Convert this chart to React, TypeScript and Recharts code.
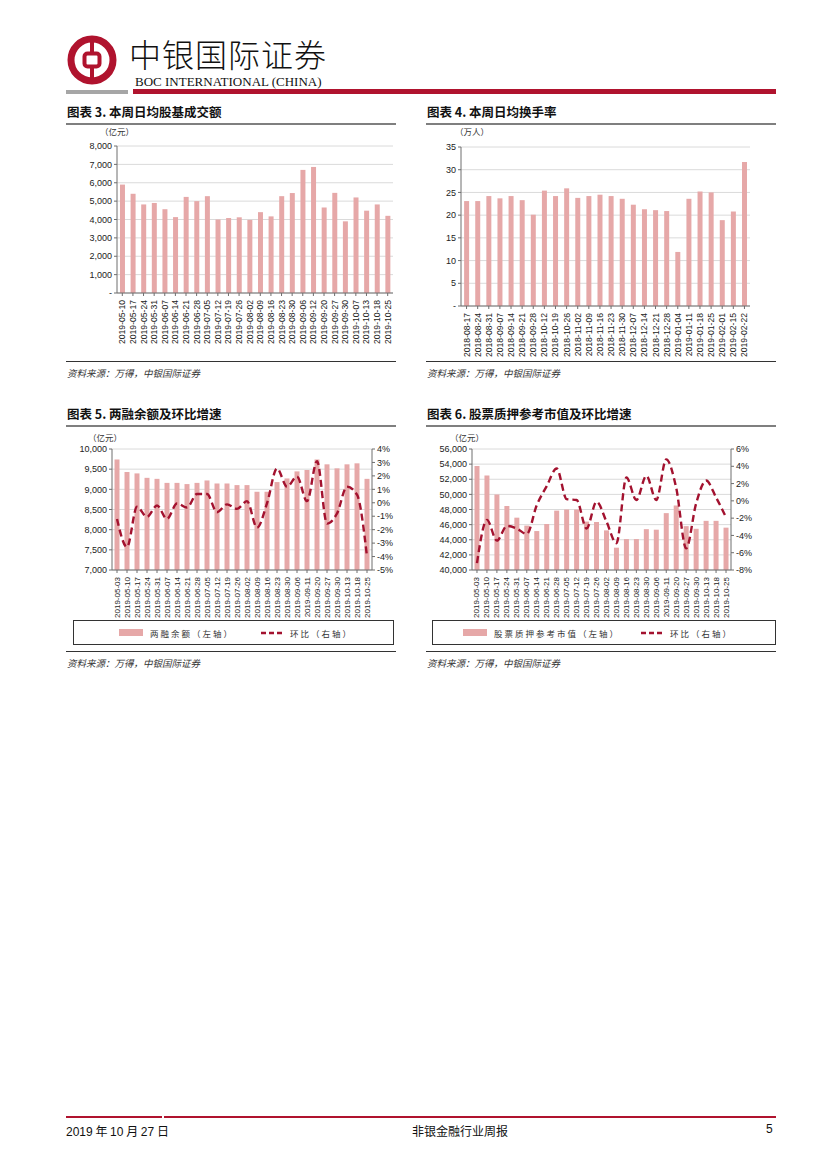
import { BarChart, Bar, ComposedChart, Line, XAxis, YAxis, CartesianGrid } from 'recharts';

// 图表3 本周日均股基成交额（亿元）
const turnoverDates = [
    '2019-05-10', '2019-05-17', '2019-05-24', '2019-05-31', '2019-06-07', '2019-06-14', '2019-06-21',
    '2019-06-28', '2019-07-05', '2019-07-12', '2019-07-19', '2019-07-26', '2019-08-02', '2019-08-09',
    '2019-08-16', '2019-08-23', '2019-08-30', '2019-09-06', '2019-09-12', '2019-09-20', '2019-09-27',
    '2019-09-30', '2019-10-07', '2019-10-13', '2019-10-18', '2019-10-25',
];
const turnoverValues = [
    5900, 5400, 4820, 4900, 4560, 4130, 5230, 5000, 5270, 4000, 4080, 4120, 3980, 4400,
    4170, 5270, 5440, 6700, 6860, 4650, 5450, 3900, 5200, 4480, 4820, 4200,
];
const turnoverTicks = [0, 1000, 2000, 3000, 4000, 5000, 6000, 7000, 8000];

// 图表4 本周日均换手率（万人）
const userDates = [
    '2018-08-17', '2018-08-24', '2018-08-31', '2018-09-07', '2018-09-14', '2018-09-21', '2018-09-28',
    '2018-10-12', '2018-10-19', '2018-10-26', '2018-11-02', '2018-11-09', '2018-11-16', '2018-11-23',
    '2018-11-30', '2018-12-07', '2018-12-14', '2018-12-21', '2018-12-28', '2019-01-04', '2019-01-11',
    '2019-01-18', '2019-01-25', '2019-02-01', '2019-02-15', '2019-02-22',
];
const userValues = [
    23.1, 23.1, 24.2, 23.7, 24.2, 23.3, 20.1, 25.4, 24.2, 25.9, 23.8, 24.2, 24.5, 24.2,
    23.6, 22.3, 21.3, 21.1, 20.9, 11.9, 23.6, 25.2, 25.0, 18.9, 20.8, 31.7,
];
const userTicks = [0, 5, 10, 15, 20, 25, 30, 35];

// 图表5 两融余额及环比增速
const marginDates = [
    '2019-05-03', '2019-05-10', '2019-05-17', '2019-05-24', '2019-05-31', '2019-06-07', '2019-06-14',
    '2019-06-21', '2019-06-28', '2019-07-05', '2019-07-12', '2019-07-19', '2019-07-26', '2019-08-02',
    '2019-08-09', '2019-08-16', '2019-08-23', '2019-08-30', '2019-09-06', '2019-09-11', '2019-09-20',
    '2019-09-27', '2019-09-30', '2019-10-13', '2019-10-18', '2019-10-25',
];
const marginBalance = [
    9740, 9430, 9395, 9285, 9260, 9160, 9160, 9130, 9160, 9220, 9145, 9145, 9105, 9105,
    8940, 8940, 9180, 9270, 9445, 9480, 9740, 9620, 9520, 9620, 9645, 9260,
];
const marginChange = [
    -1.2, -3.3, -0.3, -1.05, -0.2, -1.2, -0.05, -0.35, 0.65, 0.65, -0.7, -0.12, -0.45, 0.12,
    -1.85, -0.05, 2.55, 1.2, 1.95, 0.12, 3.1, -1.55, -0.8, 1.2, 0.6, -4.0,
];
const marginLeftTicks = [7000, 7500, 8000, 8500, 9000, 9500, 10000];
const marginRightTicks = [-5, -4, -3, -2, -1, 0, 1, 2, 3, 4];

// 图表6 股票质押参考市值及环比增速
const pledgeDates = [
    '2019-05-03', '2019-05-10', '2019-05-17', '2019-05-24', '2019-05-31', '2019-06-07', '2019-06-14',
    '2019-06-21', '2019-06-28', '2019-07-05', '2019-07-12', '2019-07-19', '2019-07-26', '2019-08-02',
    '2019-08-09', '2019-08-16', '2019-08-23', '2019-08-30', '2019-09-06', '2019-09-11', '2019-09-20',
    '2019-09-27', '2019-09-30', '2019-10-13', '2019-10-18', '2019-10-25',
];
const pledgeValue = [
    53750, 52480, 50000, 48460, 46920, 45870, 45150, 46080, 47850, 48000, 48000, 46400, 46350, 45240,
    42950, 44090, 44090, 45400, 45330, 47520, 48530, 45800, 45450, 46500, 46500, 45600,
];
const pledgeChange = [
    -7.2, -2.2, -4.6, -2.9, -3.2, -3.85, -0.5, 1.7, 3.75, 0.2, 0.1, -3.2, -0.1, -2.4,
    -4.9, 2.7, 0.1, 2.9, 0.1, 4.8, 1.5, -5.5, -0.3, 2.35, 0.4, -1.9,
];
const pledgeLeftTicks = [40000, 42000, 44000, 46000, 48000, 50000, 52000, 54000, 56000];
const pledgeRightTicks = [-8, -6, -4, -2, 0, 2, 4, 6];

const BAR = '#E6A8A8';
const LINE = '#A3122F';
const RED = '#B0132E';
const AXIS = '#6E6E6E';
const GRID = '#DADADA';
const FONT = '"Liberation Sans", Arial, "Noto Sans CJK SC", sans-serif';
const CJK = '"Noto Sans CJK SC", sans-serif';

const fmtNum = (v: number) => (v === 0 ? '-' : v.toLocaleString('en-US'));
const fmtPct = (v: number) => `${v}%`;

const RotTick = (props: any) => {
    const { x, y, payload, size = 8.6 } = props;
    return (
        <text
            x={x}
            y={y + 2}
            transform={`rotate(-90 ${x} ${y + 2})`}
            textAnchor="end"
            dominantBaseline="central"
            fontSize={size}
            fill="#222"
            fontFamily={FONT}
        >
            {payload.value}
        </text>
    );
};

const tickStyle = { fontSize: 9, fill: '#222', fontFamily: FONT };

const Title = ({ x, y, w, text }: { x: number; y: number; w: number; text: string }) => (
    <div style={{ position: 'absolute', left: x, top: y, width: w }}>
        <div style={{ fontFamily: CJK, fontWeight: 700, fontSize: 12.5, color: '#111', lineHeight: '16px', paddingLeft: 1 }}>
            {text}
        </div>
        <div style={{ height: 2, background: '#7F7F7F', marginTop: 3 }} />
    </div>
);

const Source = ({ x, y, w }: { x: number; y: number; w: number }) => (
    <div style={{ position: 'absolute', left: x, top: y, width: w }}>
        <div style={{ height: 1, background: '#333' }} />
        <div style={{ fontFamily: CJK, fontStyle: 'italic', fontSize: 9.5, color: '#333', marginTop: 4, paddingLeft: 1 }}>
            资料来源：万得，中银国际证券
        </div>
    </div>
);

const Unit = ({ x, y, text }: { x: number; y: number; text: string }) => (
    <div style={{ position: 'absolute', left: x, top: y, fontFamily: CJK, fontSize: 8.5, color: '#333' }}>{text}</div>
);

const LegendBox = ({ x, y, w, items }: { x: number; y: number; w: number; items: { label: string; kind: 'bar' | 'line'; at: number }[] }) => (
    <div style={{ position: 'absolute', left: x, top: y, width: w, height: 25, border: '1px solid #333', boxSizing: 'border-box' }}>
        {items.map((it) => (
            <div key={it.label} style={{ position: 'absolute', left: it.at, top: 0, height: 23, display: 'flex', alignItems: 'center' }}>
                {it.kind === 'bar' ? (
                    <div style={{ width: 24, height: 7, background: BAR }} />
                ) : (
                    <svg width={22} height={6}>
                        <line x1={0} y1={3} x2={22} y2={3} stroke={LINE} strokeWidth={2.5} strokeDasharray="5 3" />
                    </svg>
                )}
                <span style={{ fontFamily: CJK, fontSize: 8.5, color: '#333', marginLeft: 7, letterSpacing: 2 }}>{it.label}</span>
            </div>
        ))}
    </div>
);

const Logo = () => (
    <svg width={50} height={50} viewBox="0 0 50 50" style={{ position: 'absolute', left: 67, top: 35 }}>
        <circle cx={25} cy={25} r={21} fill="none" stroke={RED} strokeWidth={7} />
        <rect x={17.5} y={18.5} width={15} height={13} rx={3} fill="none" stroke={RED} strokeWidth={4} />
        <line x1={25} y1={4} x2={25} y2={18.5} stroke={RED} strokeWidth={4} />
        <line x1={25} y1={31.5} x2={25} y2={46} stroke={RED} strokeWidth={4} />
    </svg>
);

export default function App() {
    const turnoverData = turnoverDates.map((d, i) => ({ date: d, value: turnoverValues[i] }));
    const userData = userDates.map((d, i) => ({ date: d, value: userValues[i] }));
    const marginData = marginDates.map((d, i) => ({ date: d, balance: marginBalance[i], change: marginChange[i] }));
    const pledgeData = pledgeDates.map((d, i) => ({ date: d, value: pledgeValue[i], change: pledgeChange[i] }));

    return (
        <div style={{ position: 'absolute', left: 0, top: 0, width: 827, height: 1169, background: '#fff', fontFamily: FONT, overflow: 'hidden' }}>
            {/* header */}
            <Logo />
            <div style={{ position: 'absolute', left: 129, top: 37, fontFamily: CJK, fontWeight: 300, fontSize: 32, lineHeight: '32px', letterSpacing: 1, color: '#111' }}>
                中银国际证券
            </div>
            <div style={{ position: 'absolute', left: 135, top: 75, fontFamily: '"Liberation Serif", serif', fontSize: 13, lineHeight: '13px', color: '#111' }}>
                BOC INTERNATIONAL (CHINA)
            </div>
            <div style={{ position: 'absolute', left: 66, top: 90, width: 62, height: 4, background: '#A6A6A6' }} />
            <div style={{ position: 'absolute', left: 133, top: 89, width: 643, height: 5, background: RED }} />

            {/* 图表3 */}
            <Title x={66} y={104} w={330} text="图表 3. 本周日均股基成交额" />
            <Unit x={100} y={125} text="（亿元）" />
            <div style={{ position: 'absolute', left: 66, top: 125 }}>
                <BarChart width={330} height={228} data={turnoverData} margin={{ top: 21, right: 3, bottom: 0, left: 0 }} barCategoryGap="28%">
                    <CartesianGrid vertical={false} stroke={GRID} />
                    <XAxis dataKey="date" interval={0} height={60} tick={<RotTick />} stroke={AXIS} tickSize={3} />
                    <YAxis width={51} domain={[0, 8000]} ticks={turnoverTicks} interval={0} tickFormatter={fmtNum} tick={tickStyle} stroke={AXIS} tickSize={3} />
                    <Bar dataKey="value" fill={BAR} isAnimationActive={false} />
                </BarChart>
            </div>
            <Source x={66} y={361} w={330} />

            {/* 图表4 */}
            <Title x={426} y={104} w={350} text="图表 4. 本周日均换手率" />
            <Unit x={455} y={125} text="（万人）" />
            <div style={{ position: 'absolute', left: 426, top: 125 }}>
                <BarChart width={350} height={236} data={userData} margin={{ top: 22, right: 26, bottom: 0, left: 0 }} barCategoryGap="28%">
                    <CartesianGrid vertical={false} stroke={GRID} />
                    <XAxis dataKey="date" interval={0} height={55} tick={<RotTick />} stroke={AXIS} tickSize={3} />
                    <YAxis width={35} domain={[0, 35]} ticks={userTicks} interval={0} tickFormatter={fmtNum} tick={tickStyle} stroke={AXIS} tickSize={3} />
                    <Bar dataKey="value" fill={BAR} isAnimationActive={false} />
                </BarChart>
            </div>
            <Source x={426} y={361} w={350} />

            {/* 图表5 */}
            <Title x={66} y={406} w={330} text="图表 5. 两融余额及环比增速" />
            <Unit x={88} y={431} text="（亿元）" />
            <div style={{ position: 'absolute', left: 66, top: 430 }}>
                <ComposedChart width={332} height={188} data={marginData} margin={{ top: 19, right: 0, bottom: 0, left: 0 }} barCategoryGap="25%">
                    <CartesianGrid vertical={false} stroke={GRID} yAxisId="left" />
                    <XAxis dataKey="date" interval={0} height={48} tick={<RotTick size={8} />} stroke={AXIS} tickSize={3} />
                    <YAxis yAxisId="left" width={46} domain={[7000, 10000]} ticks={marginLeftTicks} interval={0} tickFormatter={fmtNum} tick={tickStyle} stroke={AXIS} tickSize={3} allowDataOverflow />
                    <YAxis yAxisId="right" orientation="right" width={26} domain={[-5, 4]} ticks={marginRightTicks} interval={0} tickFormatter={fmtPct} tick={tickStyle} stroke={AXIS} tickSize={3} allowDataOverflow />
                    <Bar yAxisId="left" dataKey="balance" fill={BAR} isAnimationActive={false} />
                    <Line yAxisId="right" type="monotone" dataKey="change" stroke={LINE} strokeWidth={2.4} strokeDasharray="7 4" dot={false} isAnimationActive={false} />
                </ComposedChart>
            </div>
            <LegendBox
                x={73}
                y={620}
                w={321}
                items={[
                    { label: '两融余额（左轴）', kind: 'bar', at: 45 },
                    { label: '环比（右轴）', kind: 'line', at: 187 },
                ]}
            />
            <Source x={66} y={651} w={330} />

            {/* 图表6 */}
            <Title x={426} y={406} w={350} text="图表 6. 股票质押参考市值及环比增速" />
            <Unit x={450} y={431} text="（亿元）" />
            <div style={{ position: 'absolute', left: 426, top: 430 }}>
                <ComposedChart width={350} height={188} data={pledgeData} margin={{ top: 19, right: 15, bottom: 0, left: 0 }} barCategoryGap="25%">
                    <CartesianGrid vertical={false} stroke={GRID} yAxisId="left" />
                    <XAxis dataKey="date" interval={0} height={48} tick={<RotTick size={8} />} stroke={AXIS} tickSize={3} />
                    <YAxis yAxisId="left" width={46} domain={[40000, 56000]} ticks={pledgeLeftTicks} interval={0} tickFormatter={fmtNum} tick={tickStyle} stroke={AXIS} tickSize={3} allowDataOverflow />
                    <YAxis yAxisId="right" orientation="right" width={30} domain={[-8, 6]} ticks={pledgeRightTicks} interval={0} tickFormatter={fmtPct} tick={tickStyle} stroke={AXIS} tickSize={3} allowDataOverflow />
                    <Bar yAxisId="left" dataKey="value" fill={BAR} isAnimationActive={false} />
                    <Line yAxisId="right" type="monotone" dataKey="change" stroke={LINE} strokeWidth={2.4} strokeDasharray="7 4" dot={false} isAnimationActive={false} />
                </ComposedChart>
            </div>
            <LegendBox
                x={432}
                y={620}
                w={344}
                items={[
                    { label: '股票质押参考市值（左轴）', kind: 'bar', at: 30 },
                    { label: '环比（右轴）', kind: 'line', at: 208 },
                ]}
            />
            <Source x={426} y={651} w={350} />

            {/* footer */}
            <div style={{ position: 'absolute', left: 66, top: 1116, width: 96, height: 2, background: RED }} />
            <div style={{ position: 'absolute', left: 164, top: 1116, width: 612, height: 2, background: RED }} />
            <div style={{ position: 'absolute', left: 66, top: 1122, fontFamily: CJK, fontSize: 12, color: '#111' }}>
                <span style={{ fontFamily: FONT }}>2019</span> 年 <span style={{ fontFamily: FONT }}>10</span> 月 <span style={{ fontFamily: FONT }}>27</span> 日
            </div>
            <div style={{ position: 'absolute', left: 412, top: 1122, fontFamily: CJK, fontSize: 12, color: '#111' }}>非银金融行业周报</div>
            <div style={{ position: 'absolute', left: 766, top: 1122, fontFamily: FONT, fontSize: 12, color: '#111' }}>5</div>
        </div>
    );
}
